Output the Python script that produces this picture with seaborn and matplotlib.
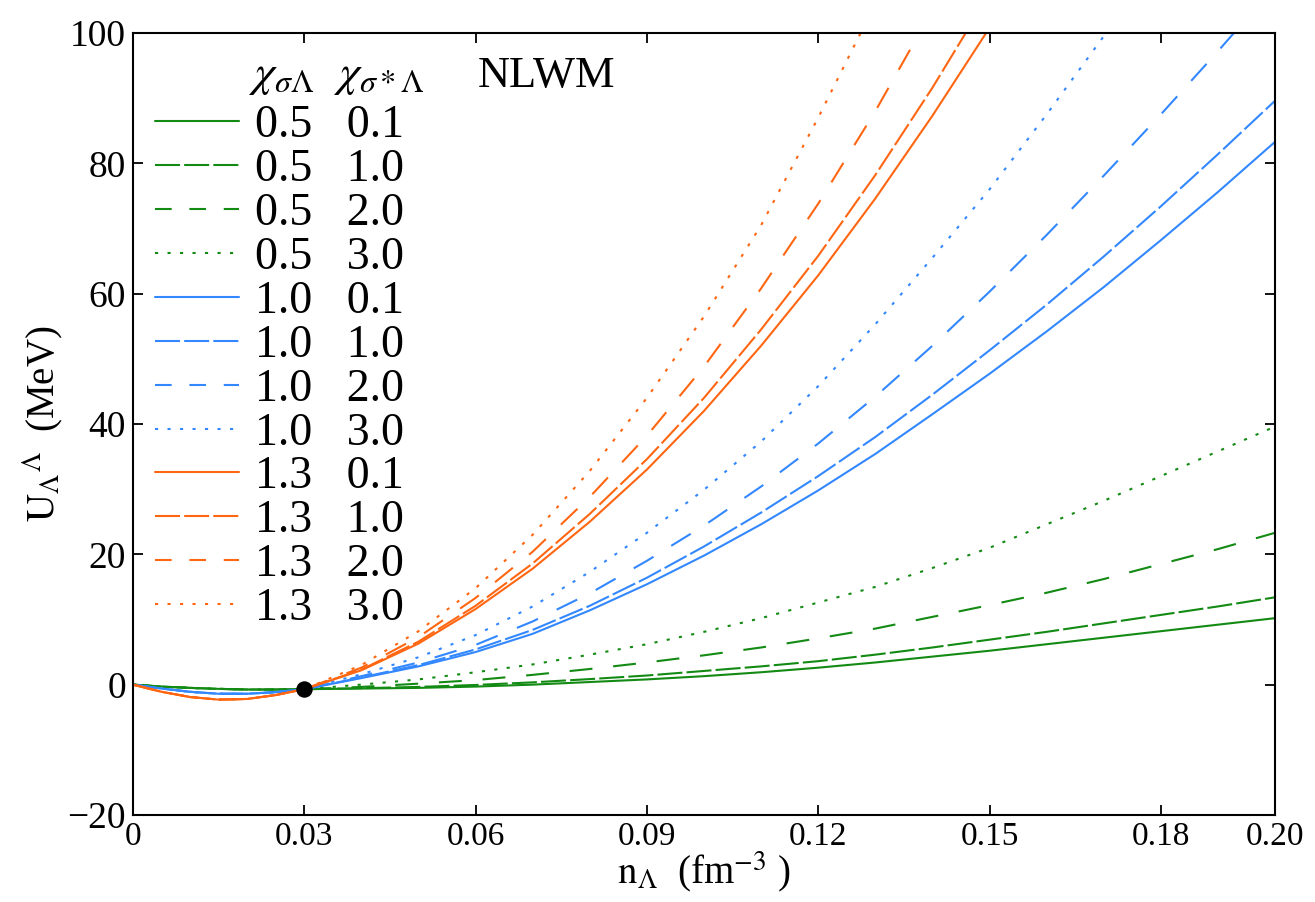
import numpy as np
import pandas as pd
import matplotlib
matplotlib.use("Agg")
import matplotlib.pyplot as plt
from matplotlib.lines import Line2D
import seaborn as sns

# density grid (fm^-3)
n_lam = [0.0, 0.005, 0.01, 0.015, 0.02, 0.025, 0.03,
         0.04, 0.05, 0.06, 0.07, 0.08, 0.09, 0.10, 0.11, 0.12,
         0.13, 0.14, 0.15, 0.16, 0.17, 0.18, 0.19, 0.20]

nan = float("nan")

# U_Lambda^Lambda (MeV); nan = above the plot range
dip_green = [0.0, -0.3, -0.5, -0.65, -0.75, -0.75, -0.7]
dip_blue = [0.0, -0.6, -1.1, -1.4, -1.4, -1.15, -0.7]
dip_orange = [0.0, -1.1, -1.9, -2.3, -2.2, -1.6, -0.7]

u_05_01 = dip_green + [-0.6, -0.5, -0.3, 0.0, 0.4, 0.8, 1.3, 1.9, 2.6, 3.4, 4.3, 5.2, 6.2, 7.2, 8.2, 9.2, 10.2]
u_05_10 = dip_green + [-0.55, -0.35, -0.05, 0.35, 0.85, 1.4, 2.1, 2.8, 3.6, 4.6, 5.7, 6.9, 8.1, 9.4, 10.7, 12.0, 13.4]
u_05_20 = dip_green + [-0.35, 0.15, 0.7, 1.5, 2.4, 3.4, 4.5, 5.7, 7.1, 8.6, 10.4, 12.2, 14.1, 16.2, 18.5, 20.8, 23.3]
u_05_30 = dip_green + [0.0, 0.8, 1.9, 3.1, 4.6, 6.2, 8.1, 10.2, 12.6, 15.0, 17.9, 21.0, 24.6, 28.2, 32.0, 35.8, 39.6]

u_10_01 = dip_blue + [1.0, 2.8, 5.0, 7.8, 11.4, 15.4, 19.8, 24.6, 29.8, 35.4, 41.5, 47.7, 54.2, 61.0, 68.2, 75.6, 83.3]
u_10_10 = dip_blue + [1.1, 3.0, 5.4, 8.4, 12.1, 16.4, 21.2, 26.4, 32.0, 38.0, 44.5, 51.3, 58.3, 65.7, 73.4, 81.4, 89.6]
u_10_20 = dip_blue + [1.3, 3.4, 6.1, 9.7, 14.0, 19.0, 24.4, 30.4, 37.0, 44.2, 52.0, 60.3, 69.0, 78.1, 87.5, 97.2, 107.2]
u_10_30 = dip_blue + [1.6, 4.2, 7.6, 12.0, 17.3, 23.3, 29.9, 37.3, 45.8, 55.3, 65.5, 76.0, 87.5, 99.5, 112.0, nan, nan]

u_13_01 = dip_orange + [2.2, 6.3, 11.6, 17.8, 25.0, 33.0, 42.0, 52.0, 62.8, 74.6, 87.3, 100.8, nan, nan, nan, nan, nan]
u_13_10 = dip_orange + [2.3, 6.6, 12.1, 18.6, 26.2, 34.6, 44.0, 54.5, 65.8, 78.2, 91.6, 106.0, nan, nan, nan, nan, nan]
u_13_20 = dip_orange + [2.6, 7.3, 13.3, 20.4, 28.8, 38.2, 48.8, 60.8, 73.8, 88.0, 103.5, nan, nan, nan, nan, nan, nan]
u_13_30 = dip_orange + [3.0, 8.2, 14.8, 23.0, 32.8, 44.0, 56.5, 70.5, 87.0, 104.5, nan, nan, nan, nan, nan, nan, nan]

chi_sl = ["0.5"] * 4 + ["1.0"] * 4 + ["1.3"] * 4
chi_ssl = ["0.1", "1.0", "2.0", "3.0"] * 3
curves = [u_05_01, u_05_10, u_05_20, u_05_30,
          u_10_01, u_10_10, u_10_20, u_10_30,
          u_13_01, u_13_10, u_13_20, u_13_30]

# common point marked on every curve
dot_n = [0.03]
dot_u = [-0.7]

x_ticks = [0.0, 0.03, 0.06, 0.09, 0.12, 0.15, 0.18, 0.20]
x_tick_labels = ["0", "0.03", "0.06", "0.09", "0.12", "0.15", "0.18", "0.20"]
y_ticks = [-20, 0, 20, 40, 60, 80, 100]

frames = []
for a, b, u in zip(chi_sl, chi_ssl, curves):
    frames.append(pd.DataFrame({"n": n_lam, "u": u, "chi_s": a, "chi_ss": b}))
df = pd.concat(frames, ignore_index=True).dropna()

palette = {"0.5": "#138a13", "1.0": "#3388ff", "1.3": "#ff6611"}
dashes = {"0.1": "", "1.0": (12, 2), "2.0": (11, 10), "3.0": (1.5, 4.5)}
# the legend samples use a slightly shorter dash
legend_dashes = {"0.1": "", "1.0": (12, 2), "2.0": (8, 8.5), "3.0": (1.5, 4.5)}

sns.set_theme(style="ticks")
plt.rcParams["font.family"] = ["Liberation Serif", "DejaVu Serif"]
plt.rcParams["mathtext.fontset"] = "stix"
for key in ["text.color", "axes.labelcolor", "xtick.color", "ytick.color"]:
    plt.rcParams[key] = "black"

fig, ax = plt.subplots(figsize=(13.15, 9.02), dpi=100)
fig.subplots_adjust(left=0.1011, right=0.9696, bottom=0.0965, top=0.9634)

sns.lineplot(data=df, x="n", y="u", hue="chi_s", style="chi_ss",
             palette=palette, dashes=dashes, linewidth=1.5,
             estimator=None, sort=False, legend=False, ax=ax)
sns.scatterplot(x=dot_n, y=dot_u, color="black", s=140, linewidth=0,
                zorder=5, ax=ax)

ax.set_xlim(0, 0.20)
ax.set_ylim(-20, 100)
ax.set_xticks(x_ticks)
ax.set_xticklabels(x_tick_labels)
ax.set_yticks(y_ticks)
ax.tick_params(direction="in", top=True, right=True, length=7.5, width=1.3, pad=5)
ax.tick_params(axis="x", labelsize=24)
ax.tick_params(axis="y", labelsize=27)
for sp in ax.spines.values():
    sp.set_linewidth(1.5)
    sp.set_color("black")

ax.set_xlabel(r"$\mathrm{n}_{\Lambda}$  (fm$^{\mathrm{-3}}$ )", fontsize=28, labelpad=-2)
ax.set_ylabel(r"$\mathrm{U}_{\Lambda}{}^{\Lambda}$  (MeV)", fontsize=28, labelpad=2)

# legend: one row per (chi_sigma, chi_sigma*) pair
handles = []
labels = []
for a, b in zip(chi_sl, chi_ssl):
    d = legend_dashes[b]
    h = Line2D([], [], color=palette[a], linewidth=1.5)
    if d:
        h.set_dashes(d)
    handles.append(h)
    labels.append(f"{a}   {b}")
ax.legend(handles, labels, loc="upper left", bbox_to_anchor=(0.019, 0.908),
          frameon=False, fontsize=33, handlelength=1.85, handletextpad=0.33,
          labelspacing=0.03, borderpad=0, borderaxespad=0)

ax.text(0.102, 0.945, r"$\chi_{\sigma\Lambda}$  $\chi_{\sigma*\Lambda}$",
        transform=ax.transAxes, fontsize=33, va="center", ha="left")
ax.text(0.302, 0.945, "NLWM", transform=ax.transAxes, fontsize=32,
        va="center", ha="left")

fig.savefig("out.png", dpi=100)
plt.close(fig)
